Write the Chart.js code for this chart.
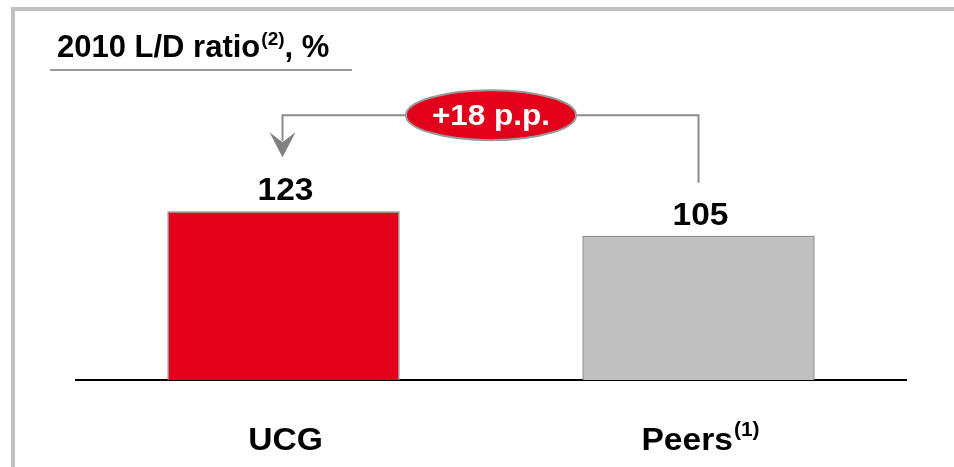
<!DOCTYPE html>
<html>
<head>
<meta charset="utf-8">
<script src="https://cdn.jsdelivr.net/npm/chart.js@4"></script>
<style>
  body { margin: 0; background: #fff; }
  #wrap { position: relative; width: 954px; height: 467px; }
</style>
</head>
<body>
<div id="wrap"><canvas id="myChart" width="954" height="467"></canvas></div>
<script>
const categories = ['UCG', 'Peers'];
const categoryNotes = ['', '(1)'];
const ratios = [123, 105];
const barColors = ['#E2001A', '#C0C0C0'];
const titleText = '2010 L/D ratio';
const titleNote = '(2)';
const titleTail = ', %';

const FONT = '"Liberation Sans", Arial, sans-serif';

// text drawn slightly widened, returns drawn width
function wideText(ctx, text, x, y, size, sx) {
    ctx.font = 'bold ' + size + 'px ' + FONT;
    const w = ctx.measureText(text).width * sx;
    ctx.save();
    ctx.translate(x, y);
    ctx.scale(sx, 1);
    ctx.textAlign = 'left';
    ctx.fillText(text, 0, 0);
    ctx.restore();
    return w;
}
function textWidth(ctx, text, size, sx) {
    ctx.font = 'bold ' + size + 'px ' + FONT;
    return ctx.measureText(text).width * sx;
}

// frame, title and underline
const framePlugin = {
    id: 'frame',
    beforeDraw(chart) {
        const ctx = chart.ctx;
        ctx.save();
        ctx.fillStyle = '#fff';
        ctx.fillRect(0, 0, chart.width, chart.height);
        ctx.fillStyle = '#C0C0C0';
        ctx.fillRect(11, 7, chart.width - 11, 4);
        ctx.fillRect(11, 7, 4, chart.height - 7);

        ctx.fillStyle = '#000';
        ctx.textBaseline = 'alphabetic';
        let x = 57;
        x += wideText(ctx, titleText, x, 57, 31, 1.0);
        x += wideText(ctx, titleNote, x + 1, 45, 19, 1.0) + 1;
        wideText(ctx, titleTail, x, 57, 31, 1.0);

        ctx.fillStyle = '#999';
        ctx.fillRect(50, 69, 302, 2);
        ctx.restore();
    }
};

// value labels, category labels and the difference bracket
const labelPlugin = {
    id: 'labels',
    afterDatasetsDraw(chart) {
        const ctx = chart.ctx;
        const bars = chart.getDatasetMeta(0).data;
        ctx.save();
        ctx.fillStyle = '#000';
        ctx.textBaseline = 'alphabetic';
        bars.forEach((bar, i) => {
            const val = String(ratios[i]);
            const wv = textWidth(ctx, val, 31, 1.08);
            wideText(ctx, val, bar.x + 2 - wv / 2, bar.y - 11, 31, 1.08);

            // category name with optional note
            const name = categories[i];
            const note = categoryNotes[i];
            const wName = textWidth(ctx, name, 32, 1.05);
            const wNote = note ? textWidth(ctx, note, 20, 1.05) + 1 : 0;
            const left = bar.x + 2 - (wName + wNote) / 2;
            wideText(ctx, name, left, 450, 32, 1.05);
            if (note) wideText(ctx, note, left + wName + 1, 436, 20, 1.05);
        });

        const a = bars[0], b = bars[1];
        const topY = Math.min(a.y, b.y) - 96;
        const lx = a.x - 1, rx = b.x;
        ctx.strokeStyle = '#8C8C8C';
        ctx.lineWidth = 2;
        ctx.beginPath();
        ctx.moveTo(rx, b.y - 53);
        ctx.lineTo(rx, topY);
        ctx.lineTo(lx, topY);
        ctx.lineTo(lx, a.y - 70);
        ctx.stroke();

        // arrow head
        const tip = a.y - 54;
        ctx.fillStyle = '#808080';
        ctx.beginPath();
        ctx.moveTo(lx, tip);
        ctx.lineTo(lx - 13, tip - 25);
        ctx.lineTo(lx, tip - 15);
        ctx.lineTo(lx + 13, tip - 25);
        ctx.closePath();
        ctx.fill();

        // difference bubble
        const cx = (a.x + b.x) / 2;
        ctx.beginPath();
        ctx.ellipse(cx, topY, 85, 25, 0, 0, Math.PI * 2);
        ctx.fillStyle = '#E2001A';
        ctx.fill();
        ctx.lineWidth = 2;
        ctx.strokeStyle = '#9A9A9A';
        ctx.stroke();
        ctx.fillStyle = '#fff';
        const diff = '+' + (ratios[0] - ratios[1]) + ' p.p.';
        const wd = textWidth(ctx, diff, 30, 1.05);
        wideText(ctx, diff, cx - wd / 2, topY + 10, 30, 1.05);
        ctx.restore();
    }
};

new Chart(document.getElementById('myChart'), {
    type: 'bar',
    data: {
        labels: categories,
        datasets: [{
            data: ratios,
            backgroundColor: barColors,
            borderColor: '#8C8C8C',
            borderWidth: 1.5,
            borderSkipped: 'bottom',
            categoryPercentage: 1,
            barPercentage: 0.56
        }]
    },
    options: {
        responsive: false,
        animation: false,
        layout: { padding: { left: 76, right: 48, top: 78, bottom: 87 } },
        plugins: { legend: { display: false }, tooltip: { enabled: false } },
        scales: {
            y: { display: false, min: 0, max: 220 },
            x: {
                grid: { display: false, drawTicks: false, tickLength: 0 },
                ticks: { display: false },
                border: { display: true, color: '#000', width: 2 }
            }
        }
    },
    plugins: [framePlugin, labelPlugin]
});
</script>
</body>
</html>
